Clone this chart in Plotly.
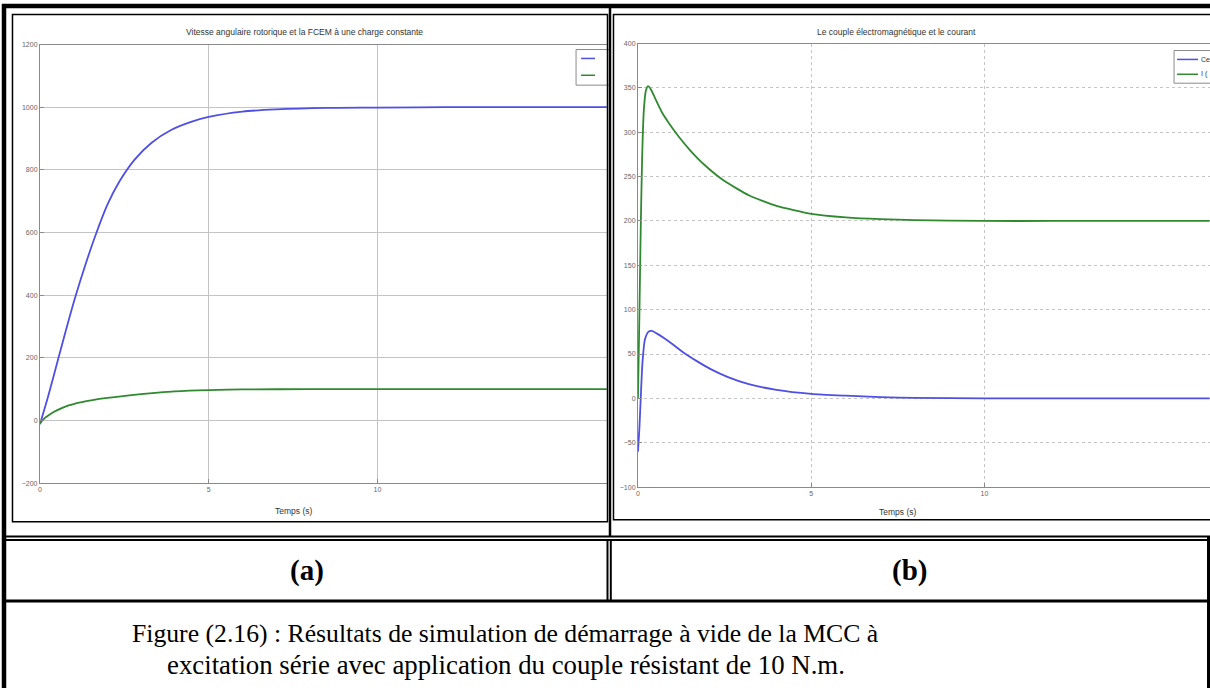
import plotly.graph_objects as go

W, H = 1210, 691

# ---------------- data ----------------
# (a) vitesse angulaire et FCEM
t_omega = [0, 0.25, 0.55, 0.8, 1.05, 1.35, 1.65, 2.0, 2.35, 2.8, 3.3, 3.9, 4.5, 5.0, 6.0, 7.0, 8.5, 10, 12, 16.8]
omega = [-12, 80, 200, 300, 395, 498, 592, 689, 762, 832, 886, 928, 954, 969, 986, 993, 998, 999, 1000, 1000]
t_fcem = [0, 0.15, 0.3, 0.5, 0.85, 1.2, 1.6, 2.0, 2.4, 3.0, 3.5, 4.0, 5.0, 6.0, 8.0, 10, 16.8]
fcem = [-10, 8, 20, 32, 48, 58, 66, 72, 77, 84, 89, 93, 97, 99, 100, 100, 100]

# (b) couple électromagnétique et courant
t_cur = [0, 0.04, 0.08, 0.12, 0.17, 0.23, 0.29, 0.38, 0.5, 0.7, 0.9, 1.18, 1.5, 1.9, 2.5, 3.2, 4.0, 5.0, 6.0, 7.0, 8.0, 10, 12, 16.5]
courant = [0, 90, 190, 270, 325, 347, 352, 348, 338, 322, 310, 295, 280, 264, 245, 229, 217, 208, 204, 202, 201, 200, 200, 200]
t_ce = [0, 0.04, 0.08, 0.13, 0.2, 0.3, 0.4, 0.55, 0.75, 1.0, 1.3, 1.7, 2.1, 2.6, 3.2, 4.0, 5.0, 6.0, 7.0, 8.0, 10, 12, 16.5]
couple = [-60, -35, 0, 40, 66, 75, 76, 73, 68, 61, 52, 42, 33, 24, 16, 9.5, 5, 3, 1.5, 0.5, 0, 0, 0]

xticks = [0, 5, 10]
yticks_a = [-200, 0, 200, 400, 600, 800, 1000, 1200]
yticks_b = [-100, -50, 0, 50, 100, 150, 200, 250, 300, 350, 400]

title_a = "Vitesse angulaire rotorique et la FCEM à une charge constante"
title_b = "Le couple électromagnétique et le courant"
xlabel = "Temps (s)"
label_a, label_b = "(a)", "(b)"
caption1 = "Figure (2.16) : Résultats de simulation de démarrage à vide de la MCC à"
caption2 = "excitation série avec application du couple résistant de 10 N.m."

BLUE = "#4f4fe6"
GREEN = "#2f8a2f"


def px(x):
    return x / W


def py(y):
    return 1 - y / H


fig = go.Figure()
fig.add_trace(go.Scatter(x=t_omega, y=omega, mode="lines", line=dict(color=BLUE, width=1.8, shape="spline", smoothing=0.8),
                         xaxis="x", yaxis="y", showlegend=False))
fig.add_trace(go.Scatter(x=t_fcem, y=fcem, mode="lines", line=dict(color=GREEN, width=1.8, shape="spline", smoothing=0.8),
                         xaxis="x", yaxis="y", showlegend=False))
fig.add_trace(go.Scatter(x=t_cur, y=courant, mode="lines", line=dict(color=GREEN, width=1.8, shape="spline", smoothing=0.5),
                         xaxis="x2", yaxis="y2", showlegend=False))
fig.add_trace(go.Scatter(x=t_ce, y=couple, mode="lines", line=dict(color=BLUE, width=1.8, shape="spline", smoothing=0.6),
                         xaxis="x2", yaxis="y2", showlegend=False))

tickfont = dict(family="Liberation Sans, Arial", size=7, color="#666")
common_x = dict(tickvals=xticks, showgrid=True, gridcolor="#c4c4c4", gridwidth=1, zeroline=False,
                showline=True, linecolor="#8a8a8a", linewidth=1, mirror=True, ticks="inside", ticklen=4,
                tickcolor="#8a8a8a", tickfont=tickfont)
common_y = dict(showgrid=True, gridcolor="#c4c4c4", gridwidth=1, zeroline=False,
                showline=True, linecolor="#8a8a8a", linewidth=1, ticks="inside", ticklen=4,
                tickcolor="#8a8a8a", tickfont=tickfont)

fig.update_layout(
    width=W, height=H, margin=dict(l=0, r=0, t=0, b=0),
    paper_bgcolor="white", plot_bgcolor="white",
    xaxis=dict(domain=[px(38), px(607)], range=[0, (607 - 38) / 33.8], anchor="y", **common_x),
    yaxis=dict(domain=[py(484), py(41)], range=[-200, 1200], tickvals=yticks_a, anchor="x", **common_y),
    xaxis2=dict(domain=[px(637), 1.0], range=[0, (1210 - 637) / 34.7], anchor="y2", griddash="dot", **common_x),
    yaxis2=dict(domain=[py(488), py(40)], range=[-100, 400], tickvals=yticks_b, anchor="x2", griddash="dot", **common_y),
)

shapes = []


def hline(x0, x1, y, w=2, color="black"):
    shapes.append(dict(type="line", xref="paper", yref="paper", x0=px(x0), x1=px(x1), y0=py(y), y1=py(y),
                       line=dict(color=color, width=w), layer="above"))


def vline(x, y0, y1, w=2, color="black"):
    shapes.append(dict(type="line", xref="paper", yref="paper", x0=px(x), x1=px(x), y0=py(y0), y1=py(y1),
                       line=dict(color=color, width=w), layer="above"))


def rect(x0, y0, x1, y1, w=1, color="black", fill=None):
    d = dict(type="rect", xref="paper", yref="paper", x0=px(x0), x1=px(x1), y0=py(y0), y1=py(y1),
             line=dict(color=color, width=w), layer="above")
    if fill:
        d["fillcolor"] = fill
    shapes.append(d)


# legend boxes (cut by the frame as in the scan)
rect(575, 46, 609, 82, w=1, color="#8a8a8a", fill="white")
hline(580, 594, 55, w=1.5, color=BLUE)
hline(580, 594, 72, w=1.5, color=GREEN)
rect(1174, 47, 1212, 80, w=1, color="#8a8a8a", fill="white")
hline(1177, 1198, 56, w=1.5, color=BLUE)
hline(1177, 1198, 71, w=1.5, color=GREEN)

# image frames
rect(10.5, 10.5, 606.5, 523, w=1.5)
rect(612.5, 10.5, 1214, 521, w=1.5)

# table borders
hline(0, W, 2, w=4.5)
vline(2, 0, H, w=4.5)
vline(609, 0, 538, w=2.5)
hline(0, W, 538, w=2)
hline(0, W, 541.5, w=2)
vline(606.5, 541, 603, w=2)
vline(609.8, 541, 603, w=2)
hline(0, W, 603, w=3)
vline(1208.5, 538, H, w=3)

fig.update_layout(shapes=shapes)

ann = []
small = dict(family="Liberation Sans, Arial", size=8.5, color="#333")
ann.append(dict(text=title_a, x=px(303), y=py(28), xref="paper", yref="paper", showarrow=False, font=small,
                xanchor="center", yanchor="middle"))
ann.append(dict(text=title_b, x=px(896), y=py(28), xref="paper", yref="paper", showarrow=False, font=small,
                xanchor="center", yanchor="middle"))
ann.append(dict(text=xlabel, x=px(292), y=py(512), xref="paper", yref="paper", showarrow=False, font=small,
                xanchor="center", yanchor="middle"))
ann.append(dict(text=xlabel, x=px(897), y=py(513), xref="paper", yref="paper", showarrow=False, font=small,
                xanchor="center", yanchor="middle"))
ann.append(dict(text="Ce", x=px(1199), y=py(56), xref="paper", yref="paper", showarrow=False,
                font=dict(family="Liberation Sans, Arial", size=7, color="#333"), xanchor="left", yanchor="middle"))
ann.append(dict(text="I (", x=px(1199), y=py(71), xref="paper", yref="paper", showarrow=False,
                font=dict(family="Liberation Sans, Arial", size=7, color="#333"), xanchor="left", yanchor="middle"))

serif_b = dict(family="Liberation Serif, Times New Roman, serif", size=29, color="black")
serif1 = dict(family="Liberation Serif, Times New Roman, serif", size=25.7, color="black")
serif2 = dict(family="Liberation Serif, Times New Roman, serif", size=26.8, color="black")
ann.append(dict(text="<b>" + label_a + "</b>", x=px(306), y=py(572), xref="paper", yref="paper", showarrow=False,
                font=serif_b, xanchor="center", yanchor="middle"))
ann.append(dict(text="<b>" + label_b + "</b>", x=px(909), y=py(572), xref="paper", yref="paper", showarrow=False,
                font=serif_b, xanchor="center", yanchor="middle"))
ann.append(dict(text=caption1, x=px(504), y=py(636), xref="paper", yref="paper", showarrow=False,
                font=serif1, xanchor="center", yanchor="middle"))
ann.append(dict(text=caption2, x=px(505), y=py(668), xref="paper", yref="paper", showarrow=False,
                font=serif2, xanchor="center", yanchor="middle"))
fig.update_layout(annotations=ann)

fig.write_html("out.html")
